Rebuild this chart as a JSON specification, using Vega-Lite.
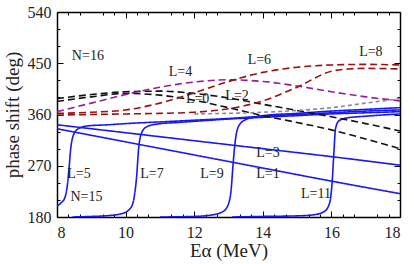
{
 "$schema": "https://vega.github.io/schema/vega-lite/v6.json",
 "width": 343, "height": 205,
 "autosize": "none",
 "padding": {"left": 57, "top": 12, "right": 14, "bottom": 47},
 "background": "white",
 "config": {"view": {"stroke": null},
   "axis": {"grid": false, "domainColor": "black", "domainWidth": 1.5, "tickColor": "black", "tickWidth": 1,
     "labelFont": "Liberation Serif", "labelFontSize": 16, "labelColor": "#222",
     "titleFont": "Liberation Serif", "titleFontSize": 19, "titleFontWeight": "normal", "titleColor": "#222"}},
 "datasets": {
  "curves": [
   {"s":"L1","E":8,"ph":335},{"s":"L1","E":10,"ph":312},{"s":"L1","E":12,"ph":289},{"s":"L1","E":14,"ph":266},{"s":"L1","E":16,"ph":243},{"s":"L1","E":18,"ph":221},
   {"s":"L3","E":8,"ph":342},{"s":"L3","E":10,"ph":328},{"s":"L3","E":12,"ph":314},{"s":"L3","E":14,"ph":300},{"s":"L3","E":16,"ph":286},{"s":"L3","E":18,"ph":271},
   {"s":"L5","E":8,"ph":199},{"s":"L5","E":8.12,"ph":205},{"s":"L5","E":8.23,"ph":214},{"s":"L5","E":8.3,"ph":235},{"s":"L5","E":8.35,"ph":265},{"s":"L5","E":8.4,"ph":300},{"s":"L5","E":8.48,"ph":324},{"s":"L5","E":8.62,"ph":335},{"s":"L5","E":8.9,"ph":340},{"s":"L5","E":9.5,"ph":342},{"s":"L5","E":10,"ph":344},{"s":"L5","E":11,"ph":347},{"s":"L5","E":12,"ph":350},{"s":"L5","E":13,"ph":353},{"s":"L5","E":14,"ph":357},{"s":"L5","E":15,"ph":360},{"s":"L5","E":16,"ph":363},{"s":"L5","E":17,"ph":366},{"s":"L5","E":18,"ph":368},
   {"s":"L7","E":8.45,"ph":180},{"s":"L7","E":9,"ph":181},{"s":"L7","E":9.5,"ph":182.5},{"s":"L7","E":9.9,"ph":186},{"s":"L7","E":10.15,"ph":196},{"s":"L7","E":10.25,"ph":215},{"s":"L7","E":10.32,"ph":250},{"s":"L7","E":10.38,"ph":300},{"s":"L7","E":10.45,"ph":325},{"s":"L7","E":10.6,"ph":338},{"s":"L7","E":10.9,"ph":343},{"s":"L7","E":11.5,"ph":346},{"s":"L7","E":12,"ph":348},{"s":"L7","E":13,"ph":352},{"s":"L7","E":14,"ph":355},{"s":"L7","E":15,"ph":358},{"s":"L7","E":16,"ph":361},{"s":"L7","E":17,"ph":363},{"s":"L7","E":18,"ph":365},
   {"s":"L9","E":11,"ph":180},{"s":"L9","E":12,"ph":181},{"s":"L9","E":12.5,"ph":183.5},{"s":"L9","E":12.85,"ph":190},{"s":"L9","E":13.0,"ph":203},{"s":"L9","E":13.08,"ph":230},{"s":"L9","E":13.13,"ph":270},{"s":"L9","E":13.2,"ph":315},{"s":"L9","E":13.3,"ph":340},{"s":"L9","E":13.5,"ph":351},{"s":"L9","E":13.8,"ph":356},{"s":"L9","E":14,"ph":358},{"s":"L9","E":15,"ph":362},{"s":"L9","E":16,"ph":366},{"s":"L9","E":17,"ph":369},{"s":"L9","E":18,"ph":372},
   {"s":"L11","E":13.1,"ph":180},{"s":"L11","E":14,"ph":181},{"s":"L11","E":15,"ph":182},{"s":"L11","E":15.5,"ph":184},{"s":"L11","E":15.8,"ph":190},{"s":"L11","E":15.95,"ph":205},{"s":"L11","E":16.02,"ph":240},{"s":"L11","E":16.07,"ph":290},{"s":"L11","E":16.12,"ph":335},{"s":"L11","E":16.22,"ph":349},{"s":"L11","E":16.45,"ph":354},{"s":"L11","E":17,"ph":357},{"s":"L11","E":18,"ph":361},
   {"s":"L0","E":8,"ph":383},{"s":"L0","E":9,"ph":391},{"s":"L0","E":10,"ph":397},{"s":"L0","E":11,"ph":394},{"s":"L0","E":12,"ph":385},{"s":"L0","E":13,"ph":372},{"s":"L0","E":14,"ph":358},{"s":"L0","E":15,"ph":346},{"s":"L0","E":16,"ph":333},{"s":"L0","E":17,"ph":317},{"s":"L0","E":18,"ph":300},
   {"s":"L2","E":8,"ph":388},{"s":"L2","E":9,"ph":395},{"s":"L2","E":10,"ph":400},{"s":"L2","E":11,"ph":401},{"s":"L2","E":12,"ph":397},{"s":"L2","E":13,"ph":389},{"s":"L2","E":14,"ph":378},{"s":"L2","E":15,"ph":367},{"s":"L2","E":16,"ph":356},{"s":"L2","E":17,"ph":344},{"s":"L2","E":18,"ph":331},
   {"s":"L4","E":8,"ph":365},{"s":"L4","E":9,"ph":380},{"s":"L4","E":10,"ph":395},{"s":"L4","E":11,"ph":408},{"s":"L4","E":12,"ph":417},{"s":"L4","E":13,"ph":421},{"s":"L4","E":14,"ph":418},{"s":"L4","E":15,"ph":410},{"s":"L4","E":16,"ph":400},{"s":"L4","E":17,"ph":391},{"s":"L4","E":18,"ph":384},
   {"s":"L6","E":8,"ph":362},{"s":"L6","E":9,"ph":364},{"s":"L6","E":10,"ph":368},{"s":"L6","E":11,"ph":380},{"s":"L6","E":12,"ph":398},{"s":"L6","E":13,"ph":418},{"s":"L6","E":14,"ph":434},{"s":"L6","E":15,"ph":443},{"s":"L6","E":16,"ph":447},{"s":"L6","E":17,"ph":448},{"s":"L6","E":18,"ph":447},
   {"s":"L8","E":8,"ph":359},{"s":"L8","E":9,"ph":360},{"s":"L8","E":10,"ph":361},{"s":"L8","E":11,"ph":362},{"s":"L8","E":12,"ph":364},{"s":"L8","E":13,"ph":370},{"s":"L8","E":14,"ph":384},{"s":"L8","E":15,"ph":408},{"s":"L8","E":16,"ph":436},{"s":"L8","E":16.5,"ph":440},{"s":"L8","E":17,"ph":441},{"s":"L8","E":18,"ph":440},
   {"s":"G","E":12,"ph":361},{"s":"G","E":13,"ph":362},{"s":"G","E":14,"ph":364},{"s":"G","E":15,"ph":367},{"s":"G","E":16,"ph":372},{"s":"G","E":17,"ph":380},{"s":"G","E":18,"ph":388}
  ],
  "labels": [
   {"t":"N=16","E":8.9,"ph":463},
   {"t":"L=5","E":8.64,"ph":255},
   {"t":"N=15","E":8.86,"ph":216},
   {"t":"L=7","E":10.77,"ph":256},
   {"t":"L=9","E":12.52,"ph":256},
   {"t":"L=1","E":14.15,"ph":256},
   {"t":"L=3","E":14.15,"ph":292},
   {"t":"L=11","E":15.55,"ph":220},
   {"t":"L=4","E":11.6,"ph":434},
   {"t":"L=6","E":13.9,"ph":455},
   {"t":"L=0","E":12.1,"ph":388},
   {"t":"L=2","E":13.25,"ph":393},
   {"t":"L=8","E":17.15,"ph":470}
  ]
 },
 "layer": [
  {
   "data": {"name": "curves"},
   "mark": {"type": "line", "interpolate": "monotone", "clip": true},
   "encoding": {
    "x": {"field": "E", "type": "quantitative", "scale": {"domain": [8, 18], "nice": false},
      "axis": {"orient": "bottom", "values": [8,10,12,14,16,18], "tickSize": -6, "labelPadding": 13, "title": "Eα (MeV)", "titlePadding": 1}},
    "y": {"field": "ph", "type": "quantitative", "scale": {"domain": [180, 540], "nice": false, "zero": false},
      "axis": {"orient": "left", "values": [180,270,360,450,540], "tickSize": -6, "labelPadding": 12, "title": "phase shift (deg)", "titlePadding": 5}},
    "detail": {"field": "s"},
    "color": {"field": "s", "type": "nominal", "legend": null,
      "scale": {"domain": ["L1","L3","L5","L7","L9","L11","L0","L2","L4","L6","L8","G"],
        "range": ["#1818f0","#1818f0","#1818f0","#1818f0","#1818f0","#1818f0","#111111","#111111","#9a1a9a","#9b1010","#9b1010","#8a8a8a"]}},
    "strokeDash": {"field": "s", "type": "nominal", "legend": null,
      "scale": {"domain": ["L1","L3","L5","L7","L9","L11","L0","L2","L4","L6","L8","G"],
        "range": [[1,0],[1,0],[1,0],[1,0],[1,0],[1,0],[7,4],[7,4],[7,4],[7,4],[7,4],[4,3]]}},
    "strokeWidth": {"field": "s", "type": "nominal", "legend": null,
      "scale": {"domain": ["L1","L3","L5","L7","L9","L11","L0","L2","L4","L6","L8","G"],
        "range": [1.6,1.6,1.6,1.6,1.6,1.6,1.5,1.5,1.5,1.5,1.5,1]}}
   }
  },
  {
   "data": {"name": "labels"},
   "mark": {"type": "text", "font": "Liberation Serif", "fontSize": 14, "color": "#222", "align": "center", "baseline": "middle"},
   "encoding": {
    "x": {"field": "E", "type": "quantitative", "axis": {"orient": "bottom", "values": [8.333,8.667,9.333,9.667,10.333,10.667,11.333,11.667,12.333,12.667,13.333,13.667,14.333,14.667,15.333,15.667,16.333,16.667,17.333,17.667], "tickSize": -3, "labels": false, "domain": false, "title": null}},
    "y": {"field": "ph", "type": "quantitative", "axis": {"orient": "left", "values": [210,240,300,330,390,420,480,510], "tickSize": -3, "labels": false, "domain": false, "title": null}},
    "text": {"field": "t"}
   }
  },
  {
   "data": {"name": "labels"},
   "mark": {"type": "point", "opacity": 0},
   "encoding": {
    "x": {"field": "E", "type": "quantitative", "axis": {"orient": "top", "values": [8,10,12,14,16,18], "tickSize": -6, "labels": false, "title": null}},
    "y": {"field": "ph", "type": "quantitative", "axis": {"orient": "right", "values": [180,270,360,450,540], "tickSize": -6, "labels": false, "title": null}}
   }
  },
  {
   "data": {"name": "labels"},
   "mark": {"type": "point", "opacity": 0},
   "encoding": {
    "x": {"field": "E", "type": "quantitative", "axis": {"orient": "top", "values": [8.333,8.667,9.333,9.667,10.333,10.667,11.333,11.667,12.333,12.667,13.333,13.667,14.333,14.667,15.333,15.667,16.333,16.667,17.333,17.667], "tickSize": -3, "labels": false, "domain": false, "title": null}},
    "y": {"field": "ph", "type": "quantitative", "axis": {"orient": "right", "values": [210,240,300,330,390,420,480,510], "tickSize": -3, "labels": false, "domain": false, "title": null}}
   }
  }
 ],
 "resolve": {"axis": {"x": "independent", "y": "independent"}}
}
